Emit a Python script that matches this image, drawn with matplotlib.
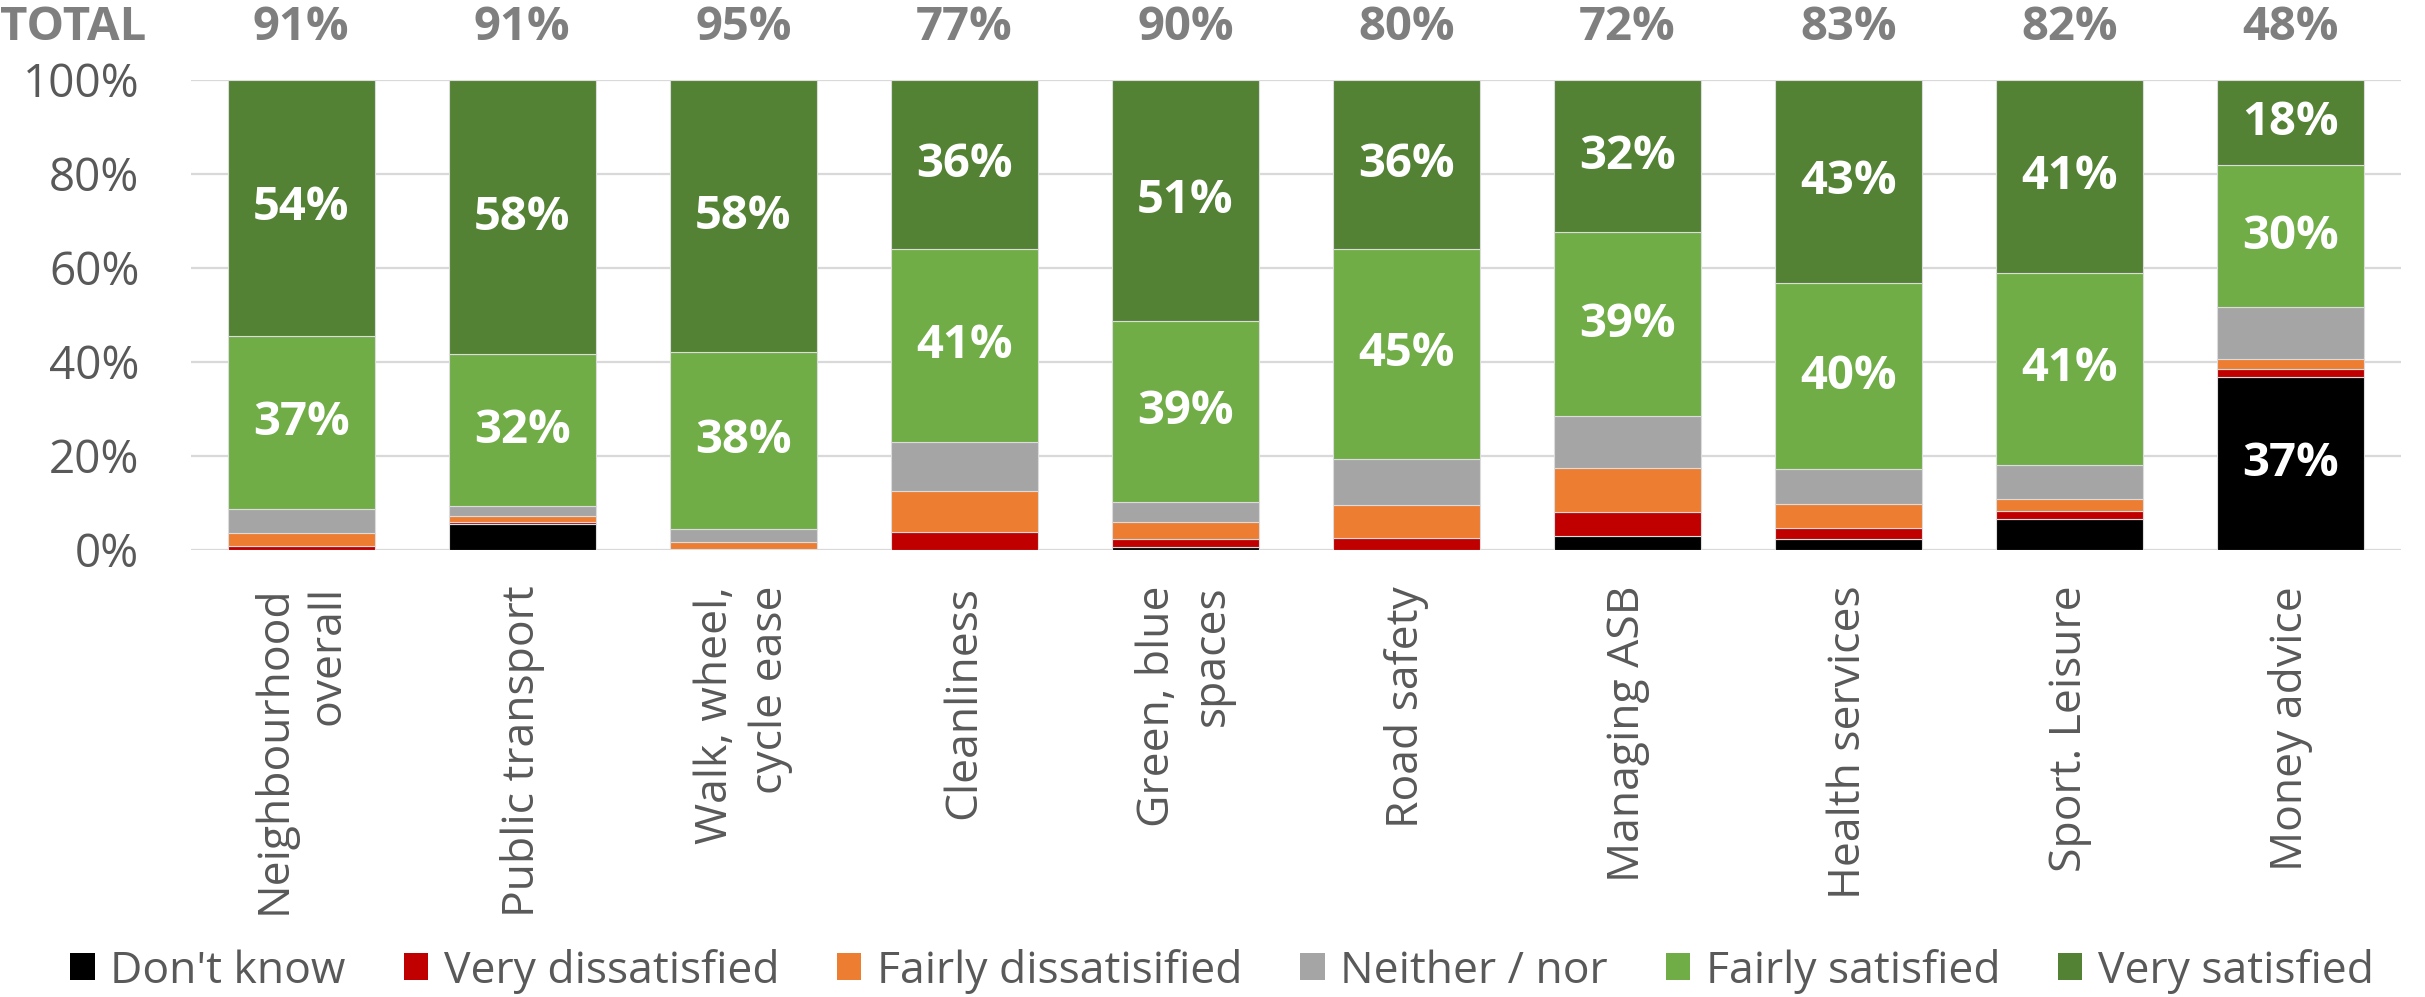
import matplotlib
matplotlib.use("Agg")
import matplotlib.pyplot as plt
import matplotlib.transforms as mtransforms
from matplotlib.patches import Patch

plt.rcParams['font.family'] = ['Open Sans', 'DejaVu Sans']

categories = ["Neighbourhood\noverall", "Public transport", "Walk, wheel,\ncycle ease",
              "Cleanliness", "Green, blue\nspaces", "Road safety", "Managing ASB",
              "Health services", "Sport. Leisure", "Money advice"]
dont_know = [0.0, 5.4, 0.0, 0.0, 0.5, 0.0, 2.9, 2.2, 6.5, 36.8]
very_dis = [0.7, 0.4, 0.2, 3.7, 1.7, 2.4, 5.1, 2.4, 1.7, 1.7]
fairly_dis = [2.8, 1.4, 1.5, 8.9, 3.7, 7.1, 9.5, 5.1, 2.7, 2.2]
neither = [5.2, 2.1, 2.7, 10.3, 4.2, 9.9, 11.0, 7.4, 7.2, 11.0]
fairly_sat = [36.9, 32.3, 37.6, 41.1, 38.6, 44.6, 39.1, 39.6, 40.9, 30.1]
very_sat = [54.4, 58.4, 58.0, 36.0, 51.3, 36.0, 32.4, 43.3, 41.0, 18.2]
totals = [91, 91, 95, 77, 90, 80, 72, 83, 82, 48]
series_names = ["Don't know", "Very dissatisfied", "Fairly dissatisified",
                "Neither / nor", "Fairly satisfied", "Very satisfied"]
series_colors = ["#000000", "#C00000", "#ED7D31", "#A5A5A5", "#70AD47", "#548235"]
yticks = [0, 20, 40, 60, 80, 100]

W, H = 2425, 997
fig = plt.figure(figsize=(W / 100, H / 100), dpi=100)
left, right, top, bottom = 190.7, 2401, 80, 549.7
ax = fig.add_axes([left / W, 1 - bottom / H, (right - left) / W, (bottom - top) / H])

FS = 32
FSB = 34
x = list(range(len(categories)))
series = [dont_know, very_dis, fairly_dis, neither, fairly_sat, very_sat]
base = [0.0] * len(categories)
for vals, name, col in zip(series, series_names, series_colors):
    ax.bar(x, vals, bottom=base, width=0.664, color=col, edgecolor='#dcdcdc',
           linewidth=0.8, label=name, zorder=3)
    for i, v in enumerate(vals):
        if v >= 15:
            ax.text(i, base[i] + v / 2, f"{v:.0f}%", ha='center', va='center',
                    color='white', fontsize=FSB, fontweight='bold', zorder=4)
    base = [b + v for b, v in zip(base, vals)]

ax.set_xlim(-0.5, len(categories) - 0.5)
ax.set_ylim(0, 100)
ax.set_yticks(yticks)
ax.set_yticklabels([f"{t}%" for t in yticks])
ax.yaxis.grid(True, color='#d9d9d9', linewidth=1.6, zorder=0)
ax.set_axisbelow(True)
for s in ax.spines.values():
    s.set_visible(False)
ax.tick_params(axis='y', length=0, pad=37, labelsize=33, labelcolor='#595959')
ax.tick_params(axis='x', length=0, pad=26, labelsize=FS, labelcolor='#595959')
ax.set_xticks(x)
ax.set_xticklabels(categories, rotation=90, ha='center', va='top',
                   multialignment='right', linespacing=1.3)

trans = mtransforms.blended_transform_factory(ax.transData, fig.transFigure)
ty = 1 - 27 / H
for i, t in enumerate(totals):
    ax.text(i, ty, f"{t}%", transform=trans, ha='center', va='center',
            fontsize=FSB, fontweight='bold', color='#7F7F7F')
fig.text(0.0, ty, "TOTAL", ha='left', va='center', fontsize=FSB,
         fontweight='bold', color='#7F7F7F')

handles = [Patch(facecolor=c, edgecolor='none') for c in series_colors]
leg = fig.legend(handles, series_names, loc='center', bbox_to_anchor=(0.504, 0.026),
                 ncol=6, frameon=False, fontsize=FS, handlelength=0.55,
                 handleheight=0.55, handletextpad=0.35, columnspacing=1.3,
                 borderaxespad=0)
for txt in leg.get_texts():
    txt.set_color('#595959')

fig.savefig("out.png", dpi=100)
